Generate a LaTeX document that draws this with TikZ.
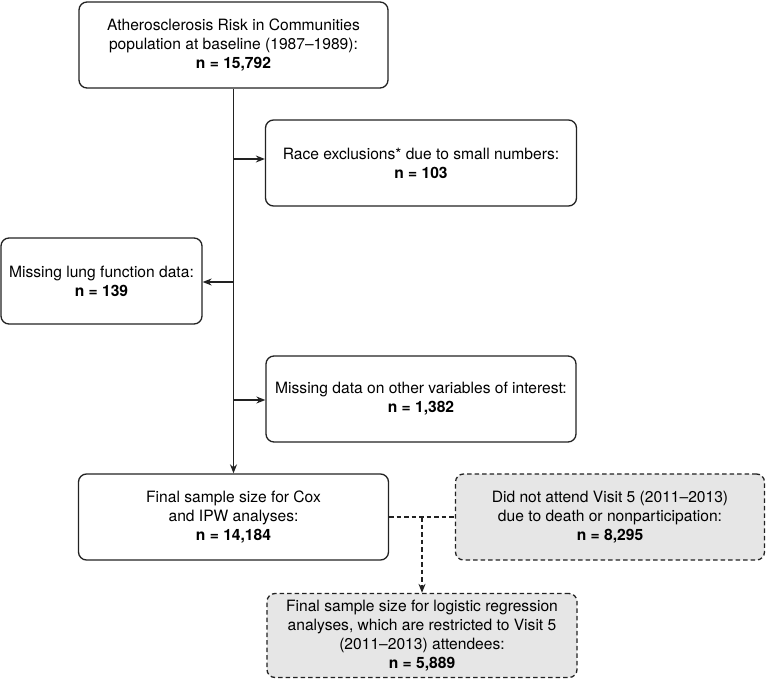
\documentclass[tikz,border=0pt]{standalone}
\usepackage{fontspec}
\setmainfont{TeX Gyre Heros}
\usetikzlibrary{arrows.meta}
\definecolor{ln}{HTML}{222222}
\definecolor{boxgray}{HTML}{E6E6E6}
\begin{document}
\begin{tikzpicture}[x=1pt,y=-1pt,
  every node/.style={font=\fontsize{15.6}{19}\selectfont, text=black},
  solidbox/.style={draw=ln, line width=1.3pt, rounded corners=8pt, align=center, inner sep=0pt},
  dashbox/.style={solidbox, dash pattern=on 4.5pt off 3pt, fill=boxgray},
  conn/.style={draw=ln, line width=1.3pt},
  arr/.style={conn, -{Stealth[length=9pt,width=7pt]}},
  darr/.style={arr, dash pattern=on 4.5pt off 3pt}
]
\useasboundingbox (0,0) rectangle (767,679);
\node[solidbox, minimum width=309pt, minimum height=86pt] (A) at (233.5,45)
  {Atherosclerosis Risk in Communities\\population at baseline (1987–1989):\\\textbf{n = 15,792}};
\node[solidbox, minimum width=311pt, minimum height=86pt] (B) at (421,163)
  {Race exclusions* due to small numbers:\\\textbf{n = 103}};
\node[solidbox, minimum width=201pt, minimum height=86pt] (C) at (101.5,281)
  {Missing lung function data:\\\textbf{n = 139}};
\node[solidbox, minimum width=310pt, minimum height=86pt] (D) at (421,399)
  {Missing data on other variables of interest:\\\textbf{n = 1,382}};
\node[solidbox, minimum width=310pt, minimum height=86pt] (E) at (233.5,517)
  {Final sample size for Cox\\and IPW analyses:\\\textbf{n = 14,184}};
\node[dashbox, minimum width=309pt, minimum height=86pt] (F) at (610,517)
  {Did not attend Visit 5 (2011–2013)\\due to death or nonparticipation:\\\textbf{n = 8,295}};
\node[dashbox, minimum width=310pt, minimum height=84pt] (G) at (422,635.5)
  {Final sample size for logistic regression\\analyses, which are restricted to Visit 5\\(2011–2013) attendees:\\\textbf{n = 5,889}};

\coordinate (jB) at (234,159);
\coordinate (jC) at (234,282);
\coordinate (jD) at (234,400);
\coordinate (jG) at (422,517);

\draw[arr] (A.south) -- (E.north);
\draw[arr] (jB) -- (B.west |- jB);
\draw[arr] (jC) -- (C.east |- jC);
\draw[arr] (jD) -- (D.west |- jD);
\draw[conn, dash pattern=on 4.5pt off 3pt] (E.east) -- (F.west);
\draw[darr] (jG) -- (G.north -| jG);
\end{tikzpicture}
\end{document}
